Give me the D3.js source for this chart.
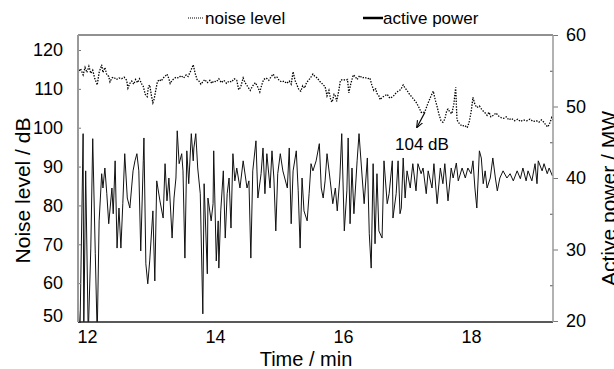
<!DOCTYPE html>
<html>
<head>
<meta charset="utf-8">
<script src="https://cdn.jsdelivr.net/npm/d3@7"></script>
<style>
  body { margin: 0; background: #fff; }
  svg { display: block; font-family: "Liberation Sans", Arial, sans-serif; }
</style>
</head>
<body>
<svg id="chart" width="614" height="369"></svg>
<script>
// noise level (dB), left axis
const noiseTime = [11.86,11.9,11.94,11.97,12.0,12.03,12.06,12.09,12.12,12.16,
  12.19,12.21,12.23,12.25,12.28,12.31,12.34,12.36,12.39,12.42,
  12.46,12.5,12.54,12.58,12.62,12.64,12.67,12.7,12.73,12.76,
  12.79,12.82,12.85,12.88,12.91,12.94,12.96,12.98,13.01,13.03,
  13.05,13.07,13.1,13.13,13.16,13.19,13.22,13.25,13.28,13.3,
  13.33,13.36,13.39,13.43,13.47,13.51,13.55,13.58,13.62,13.66,
  13.69,13.72,13.75,13.78,13.81,13.84,13.88,13.92,13.95,13.98,
  14.02,14.06,14.1,14.14,14.18,14.22,14.26,14.3,14.34,14.37,
  14.4,14.44,14.47,14.51,14.55,14.59,14.63,14.67,14.7,14.73,
  14.76,14.8,14.84,14.88,14.91,14.94,14.97,15.0,15.04,15.08,
  15.12,15.16,15.19,15.22,15.25,15.28,15.31,15.34,15.37,15.4,
  15.43,15.46,15.49,15.53,15.56,15.6,15.63,15.66,15.69,15.72,
  15.75,15.78,15.81,15.83,15.86,15.88,15.9,15.93,15.96,16.0,
  16.04,16.07,16.09,16.12,16.16,16.19,16.22,16.26,16.3,16.34,
  16.38,16.42,16.45,16.48,16.51,16.53,16.56,16.58,16.61,16.65,
  16.69,16.73,16.78,16.82,16.86,16.9,16.94,16.97,17.0,17.03,
  17.07,17.1,17.14,17.18,17.22,17.25,17.28,17.32,17.37,17.41,
  17.44,17.47,17.5,17.53,17.56,17.59,17.62,17.64,17.67,17.7,
  17.73,17.76,17.78,17.82,17.86,17.9,17.94,17.97,18.0,18.03,
  18.06,18.09,18.13,18.17,18.21,18.25,18.28,18.31,18.35,18.39,
  18.43,18.47,18.51,18.55,18.59,18.63,18.68,18.73,18.77,18.82,
  18.87,18.92,18.97,19.02,19.06,19.1,19.14,19.17,19.2,19.23,
  19.26,19.28];
const noiseLevel = [114.0,115.2,113.6,115.5,114.2,115.8,114.0,114.8,112.8,111.0,
  114.2,115.2,116.2,114.2,115.5,113.6,113.2,111.8,112.8,113.0,
  112.4,112.8,112.6,113.0,112.2,110.2,111.4,112.0,111.2,112.4,
  111.6,112.6,111.4,110.6,108.6,108.0,110.6,111.0,108.0,106.4,
  107.4,109.2,111.8,112.4,112.0,112.8,113.2,113.8,112.6,111.4,
  112.2,112.6,113.0,112.8,113.4,112.8,113.6,113.2,114.6,116.2,
  114.0,112.4,112.0,111.2,111.8,112.4,111.6,112.2,111.4,112.0,
  111.8,112.6,111.6,112.2,111.4,112.0,111.8,112.6,112.2,109.8,
  110.4,112.8,111.6,110.6,109.6,110.8,111.6,110.4,109.2,111.0,
  112.4,112.8,112.2,113.2,113.8,112.8,113.0,112.2,111.8,112.0,
  111.4,112.0,111.2,114.4,112.2,111.0,109.8,109.4,110.8,110.2,
  111.6,112.2,112.8,113.8,113.2,112.8,112.0,111.6,111.0,110.6,
  108.2,109.6,107.0,106.6,108.6,108.2,106.8,109.2,112.2,112.4,
  112.2,112.4,109.0,111.2,113.6,113.2,112.4,113.4,112.8,113.0,
  112.6,112.8,111.0,109.6,110.0,108.8,108.2,107.2,107.8,108.2,
  108.6,107.6,108.0,108.8,109.4,109.8,111.0,110.2,109.6,108.8,
  108.0,107.4,106.6,105.4,104.0,103.8,104.2,106.0,108.0,109.4,
  107.2,105.4,103.4,101.8,101.4,102.2,104.4,104.8,104.0,103.6,
  106.0,110.4,102.0,101.0,100.4,100.6,100.0,101.4,104.0,107.8,
  106.0,105.2,105.6,104.6,104.0,103.2,104.0,102.8,103.2,103.8,
  103.0,102.6,102.4,102.8,102.0,102.4,101.8,102.2,101.6,102.0,
  101.8,102.2,101.6,101.8,101.4,102.0,101.4,100.6,100.2,101.2,
  102.6,102.0];

// active power (MW), right axis
const powerTime = [11.86,11.89,11.94,11.95,11.98,12.02,12.06,12.09,12.13,12.16,
  12.19,12.23,12.25,12.28,12.31,12.34,12.39,12.41,12.44,12.47,
  12.5,12.53,12.56,12.59,12.63,12.67,12.72,12.75,12.78,12.81,
  12.84,12.88,12.89,12.92,12.95,12.98,13.03,13.06,13.09,13.14,
  13.19,13.22,13.25,13.28,13.33,13.36,13.39,13.41,13.44,13.48,
  13.5,13.53,13.56,13.59,13.63,13.66,13.67,13.7,13.73,13.77,
  13.81,13.83,13.88,13.89,13.94,13.97,13.98,14.02,14.05,14.06,
  14.09,14.13,14.16,14.19,14.22,14.25,14.28,14.31,14.34,14.39,
  14.44,14.5,14.53,14.56,14.59,14.64,14.67,14.72,14.75,14.78,
  14.81,14.86,14.89,14.92,14.95,14.98,15.02,15.06,15.13,15.16,
  15.19,15.22,15.27,15.3,15.33,15.36,15.39,15.44,15.47,15.5,
  15.53,15.58,15.63,15.66,15.69,15.72,15.75,15.8,15.84,15.88,
  15.91,15.95,15.98,16.02,16.06,16.08,16.11,16.14,16.17,16.22,
  16.25,16.3,16.33,16.38,16.41,16.44,16.47,16.5,16.53,16.56,
  16.61,16.64,16.69,16.72,16.77,16.78,16.83,16.86,16.89,16.91,
  16.94,16.97,17.0,17.05,17.09,17.14,17.17,17.22,17.25,17.3,
  17.33,17.39,17.42,17.47,17.52,17.56,17.59,17.64,17.69,17.72,
  17.77,17.8,17.86,17.91,17.95,18.0,18.03,18.06,18.09,18.13,
  18.16,18.19,18.22,18.25,18.3,18.34,18.38,18.41,18.45,18.5,
  18.56,18.61,18.66,18.72,18.77,18.81,18.86,18.89,18.95,19.0,
  19.03,19.05,19.11,19.14,19.19,19.22,19.27];
const activePower = [22.8,18,46.2,18,41.0,18,30.2,45.5,29.4,18,
  34.0,40.6,38.6,41.4,37.8,33.6,38.6,35.0,42.4,30.2,
  35.8,30.2,36.4,43.4,37.2,35.8,41.0,42.4,43.4,41.0,
  29.8,42.4,45.6,28.0,25.2,28.4,35.4,25.6,39.6,36.8,
  34.4,42.0,36.8,40.0,31.6,37.2,40.0,46.6,42.0,43.4,
  41.0,28.8,43.8,39.2,46.2,42.4,44.2,46.2,41.4,37.8,
  21.0,39.2,26.6,37.2,34.0,36.4,43.8,28.4,34.0,27.4,
  35.4,41.0,31.6,37.8,40.0,33.0,43.4,39.6,41.4,38.6,
  42.4,38.6,39.6,28.8,41.0,45.2,37.2,40.6,44.2,37.8,
  43.4,38.6,43.8,40.0,32.6,40.6,43.4,41.0,38.6,44.2,
  33.6,41.0,43.8,38.2,30.2,40.0,35.4,34.0,37.8,42.0,
  41.0,42.4,44.8,38.6,37.2,39.6,43.4,39.6,36.4,38.6,
  35.4,40.0,46.2,32.6,38.2,45.6,33.6,41.4,35.0,42.4,
  46.2,40.0,36.4,42.8,32.2,27.4,42.0,30.8,40.6,32.6,
  31.6,42.4,36.4,37.8,42.4,34.4,37.8,42.4,35.0,35.8,
  42.8,37.2,41.0,38.6,42.0,38.2,42.0,40.6,41.4,37.8,
  41.0,38.6,42.0,36.4,41.4,39.2,42.0,36.8,41.4,40.0,
  42.1,39.6,41.4,40.0,41.4,40.6,42.4,38.6,35.8,43.8,
  42.8,39.2,41.0,38.6,40.0,42.8,40.0,38.2,40.0,41.0,
  40.0,40.6,39.6,41.0,39.9,41.4,39.6,41.0,39.6,42.0,
  39.2,42.4,41.0,42.0,40.6,41.4,40.3];

const timeTicks = [12, 14, 16, 18];
const noiseTicks = [50, 60, 70, 80, 90, 100, 110, 120];
const powerTicks = [20, 30, 40, 50, 60];
const powerMinorTicks = [25, 35, 45, 55];

const svg = d3.select('#chart');
const pLeft = 78, pRight = 553, pTop = 35, pBottom = 322;

const x = d3.scaleLinear().domain([11.86, 19.28]).range([pLeft, pRight]);
const yNoise = d3.scaleLinear().domain([50, 120]).range([322, 50]);
const yPower = d3.scaleLinear().domain([20, 60]).range([321, 35]);

const defs = svg.append('defs');
defs.append('clipPath').attr('id', 'plot-clip')
  .append('rect')
  .attr('x', pLeft).attr('y', pTop)
  .attr('width', pRight - pLeft).attr('height', pBottom - pTop);

defs.append('marker')
  .attr('id', 'arrow')
  .attr('viewBox', '0 0 10 10')
  .attr('refX', 9).attr('refY', 5)
  .attr('markerWidth', 6).attr('markerHeight', 6)
  .attr('orient', 'auto')
  .append('path')
  .attr('d', 'M0,1 L10,5 L0,9')
  .attr('fill', 'none')
  .attr('stroke', '#000')
  .attr('stroke-width', 1.5);

const plot = svg.append('g').attr('clip-path', 'url(#plot-clip)');

// Lines
const powerLine = d3.line()
  .x((d, i) => x(powerTime[i]))
  .y(d => yPower(d));

plot.append('path')
  .datum(activePower)
  .attr('d', powerLine)
  .attr('fill', 'none')
  .attr('stroke', '#111')
  .attr('stroke-width', 1);

const noiseLine = d3.line()
  .x((d, i) => x(noiseTime[i]))
  .y(d => yNoise(d));

plot.append('path')
  .datum(noiseLevel)
  .attr('d', noiseLine)
  .attr('fill', 'none')
  .attr('stroke', '#000')
  .attr('stroke-width', 1.3)
  .attr('stroke-dasharray', '1.4,1.4');

// Axes
const tickFont = g => g.selectAll('text')
  .attr('font-size', 18)
  .attr('fill', '#000')
  .attr('font-family', '"Liberation Sans", Arial, sans-serif');

svg.append('g')
  .attr('transform', `translate(${pLeft},0)`)
  .call(d3.axisLeft(yNoise).tickValues(noiseTicks).tickSizeInner(-3).tickSizeOuter(0).tickPadding(15))
  .call(g => g.select('.domain').remove())
  .call(g => g.selectAll('line').attr('stroke', '#777'))
  .call(tickFont)
  .call(g => g.selectAll('.tick').filter(d => d === 50).select('text').attr('dy', '-0.05em'));

svg.append('g')
  .attr('transform', `translate(${pRight},0)`)
  .call(d3.axisRight(yPower).tickValues(powerTicks).tickSizeInner(5).tickSizeOuter(0).tickPadding(8))
  .call(g => g.select('.domain').remove())
  .call(g => g.selectAll('line').attr('stroke', '#777'))
  .call(tickFont);

svg.append('g')
  .attr('transform', `translate(${pRight},0)`)
  .call(d3.axisRight(yPower).tickValues(powerMinorTicks).tickSizeInner(-3).tickSizeOuter(0).tickFormat(''))
  .call(g => g.select('.domain').remove())
  .call(g => g.selectAll('line').attr('stroke', '#555'));

svg.append('g')
  .attr('transform', `translate(0,${pBottom})`)
  .call(d3.axisBottom(x).tickValues(timeTicks).tickSizeInner(0).tickSizeOuter(0).tickPadding(8))
  .call(g => g.select('.domain').remove())
  .call(tickFont);

// Frame
svg.append('line').attr('x1', pLeft).attr('x2', pRight).attr('y1', pTop).attr('y2', pTop)
  .attr('stroke', '#222').attr('stroke-width', 1);
svg.append('line').attr('x1', pLeft).attr('x2', pRight).attr('y1', pBottom).attr('y2', pBottom)
  .attr('stroke', '#222').attr('stroke-width', 1.5);
svg.append('line').attr('x1', pLeft).attr('x2', pLeft).attr('y1', pTop).attr('y2', pBottom)
  .attr('stroke', '#999').attr('stroke-width', 2);
svg.append('line').attr('x1', pRight).attr('x2', pRight).attr('y1', pTop).attr('y2', pBottom)
  .attr('stroke', '#999').attr('stroke-width', 1.5);

// Axis titles
svg.append('text')
  .attr('transform', `translate(30,${(pTop + pBottom) / 2 + 12}) rotate(-90)`)
  .attr('text-anchor', 'middle')
  .attr('font-size', 21)
  .text('Noise level / dB');

svg.append('text')
  .attr('transform', `translate(616,${(pTop + pBottom) / 2 + 20}) rotate(-90)`)
  .attr('text-anchor', 'middle')
  .attr('font-size', 21)
  .text('Active power / MW');

svg.append('text')
  .attr('x', 306).attr('y', 366)
  .attr('text-anchor', 'middle')
  .attr('font-size', 20)
  .text('Time / min');

// Legend
svg.append('line').attr('x1', 188).attr('x2', 204).attr('y1', 18).attr('y2', 18)
  .attr('stroke', '#000').attr('stroke-width', 1).attr('stroke-dasharray', '1,1');
svg.append('text').attr('x', 205).attr('y', 24).attr('font-size', 17).text('noise level');
svg.append('line').attr('x1', 363).attr('x2', 383).attr('y1', 18).attr('y2', 18)
  .attr('stroke', '#000').attr('stroke-width', 2.5);
svg.append('text').attr('x', 383).attr('y', 24).attr('font-size', 17).text('active power');

// Annotation
const ax = x(17.28), ay = yNoise(104);
svg.append('line')
  .attr('x1', ax).attr('y1', ay)
  .attr('x2', ax - 8).attr('y2', ay + 15)
  .attr('stroke', '#000').attr('stroke-width', 1.2)
  .attr('marker-end', 'url(#arrow)');
svg.append('text').attr('x', 395).attr('y', 150).attr('font-size', 17).text('104 dB');
</script>
</body>
</html>
